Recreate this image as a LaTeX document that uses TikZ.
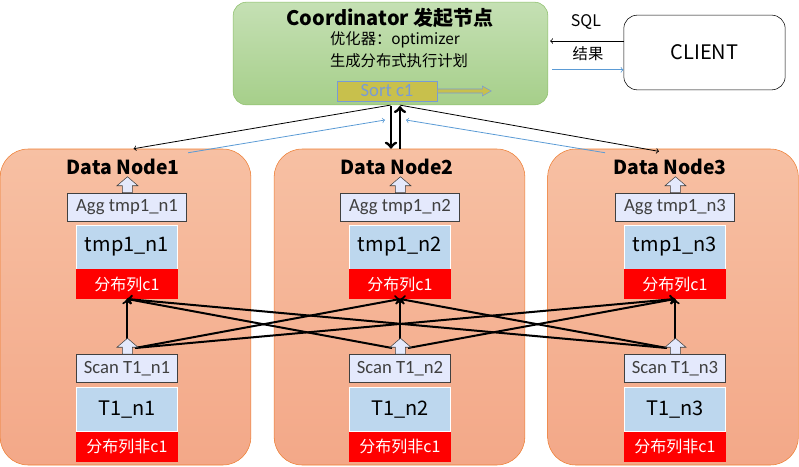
\documentclass[tikz,border=0pt]{standalone}
\usepackage{fontspec}
\setmainfont{Noto Sans CJK SC}
\newfontfamily\calfont{Carlito}
\usetikzlibrary{positioning}

\definecolor{coordtop}{RGB}{197,224,180}
\definecolor{coordbot}{RGB}{166,207,138}
\definecolor{coordline}{RGB}{140,190,105}
\definecolor{dntop}{RGB}{247,192,163}
\definecolor{dnbot}{RGB}{243,168,136}
\definecolor{dnline}{RGB}{237,125,49}
\definecolor{aggfill}{RGB}{228,233,252}
\definecolor{tmpfill}{RGB}{189,215,238}
\definecolor{sortfill}{RGB}{200,192,76}
\definecolor{sortblue}{RGB}{120,155,215}
\definecolor{resblue}{RGB}{91,155,213}
\definecolor{darkgray}{RGB}{64,64,64}

\tikzset{
  coordbox/.style={draw=coordline, rounded corners=10pt, top color=coordtop, bottom color=coordbot,
    minimum width=236pt, minimum height=77pt},
  clientbox/.style={draw, rounded corners=10pt, fill=white, minimum width=121pt, minimum height=56pt,
    font=\fontsize{15}{17}\selectfont},
  dnbox/.style={draw=dnline, rounded corners=21pt, top color=dntop, bottom color=dnbot,
    minimum width=188pt, minimum height=237pt},
  dntitle/.style={font=\bfseries\fontsize{14.5}{16}\selectfont},
  aggbox/.style={draw=darkgray, fill=aggfill, text=darkgray, minimum width=89pt, minimum height=21pt,
    inner sep=0pt, font=\calfont\fontsize{14}{16}\selectfont},
  scanbox/.style={aggbox, minimum width=76pt},
  tmpbox/.style={draw=white, fill=tmpfill, minimum width=76pt, minimum height=33pt, inner sep=0pt,
    outer sep=0pt, font=\fontsize{15}{17}\selectfont},
  distbox/.style={fill=red, text=white, minimum width=76pt, minimum height=22.5pt, inner sep=0pt,
    outer sep=0pt, font=\fontsize{12}{14}\selectfont},
  sortbox/.style={draw=sortblue, fill=sortfill, text=sortblue, minimum width=75pt, minimum height=15pt,
    inner sep=0pt, font=\calfont\fontsize{14}{16}\selectfont},
  blockarr/.style={draw=darkgray, fill=aggfill, line join=miter},
  flow/.style={->, line width=1.5pt},
  fatarr/.style={line width=2.2pt},
  thinarr/.style={->, line width=0.6pt},
  bluearr/.style={->, draw=resblue, line width=0.6pt}
}

% hollow upward arrow sitting on a box
\newcommand{\blockup}[1]{\draw[blockarr] ([xshift=-3.4pt]#1) -- ++(0,-7) -- ++(-5.5,0) -- ++(10.5,-9)
  -- ++(10.5,9) -- ++(-5.5,0) -- ++(0,7) -- cycle;}

\begin{document}
\begin{tikzpicture}[x=0.75pt,y=-0.75pt]
\useasboundingbox (0,0) rectangle (799,467);

% coordinator
\node[coordbox] (coord) at (390.5,53.5) {};
\node[font=\bfseries\fontsize{15}{17}\selectfont] (ctitle) at (390,18) {Coordinator 发起节点};
\node[font=\fontsize{11.5}{13}\selectfont] (copt) at (395,40) {优化器：optimizer};
\node[font=\fontsize{11.5}{13}\selectfont] (cplan) at (399,61) {生成分布式执行计划};
\node[sortbox] (sort) at (387,91) {Sort c1};
\draw[draw=sortblue, fill=sortfill] ([yshift=1.5pt]sort.east) -- ++(45,0) -- ++(0,-3) -- ++(9,5)
  -- ++(-9,5) -- ++(0,-3) -- ++(-45,0) -- cycle;

% client
\node[clientbox] (client) at (704.5,52.5) {CLIENT};
\coordinate (sqlout) at ([yshift=8.6pt]client.west);
\coordinate (resin) at ([yshift=-13pt]client.west);
\draw[thinarr] (sqlout) -- ([xshift=1.5pt]coord.east |- sqlout);
\draw[bluearr] ([xshift=3pt]coord.east |- resin) -- (resin);
\node[font=\fontsize{12}{14}\selectfont] (sql) at (586,22) {SQL};
\node[font=\fontsize{11.5}{13}\selectfont] (res) at (588,54) {结果};

% data nodes
\foreach \i/\bx/\cx/\tx in {1/125.5/127/123, 2/399.5/400/397, 3/673/675/670} {
  \node[dnbox] (dn\i) at (\bx,307) {};
  \node[dntitle] (title\i) at (\tx,167) {Data Node\i};
  \node[aggbox] (agg\i) at (\cx,207) {Agg tmp1\_n\i};
  \node[tmpbox] (tmp\i) at (\cx,247) {tmp1\_n\i};
  \node[distbox, below=0pt of tmp\i] (dist\i) {分布列c1};
  \node[scanbox] (scan\i) at (\cx,368.5) {Scan T1\_n\i};
  \node[tmpbox] (t\i) at (\cx,409.5) {T1\_n\i};
  \node[distbox, below=0pt of t\i] (ndist\i) {分布列非c1};
  \coordinate (tip\i) at (\cx,340);
  \coordinate (srcL\i) at (\cx-8,348);
  \coordinate (srcR\i) at (\cx+8,348);
}

% redistribution
\foreach \i in {1,2,3}
  \draw[flow] (tip\i) -- (dist\i.south);
\foreach \a/\b in {1/2,1/3,2/3}
  \draw[flow] (srcR\a) -- (dist\b.south);
\foreach \a/\b in {2/1,3/1,3/2}
  \draw[flow] (srcL\a) -- (dist\b.south);
\foreach \i in {1,2,3} {
  \blockup{agg\i.north}
  \blockup{scan\i.north}
}

% coordinator <-> data nodes
\coordinate (down1) at (391,106);
\coordinate (up1) at (400,106);
\coordinate (in1) at (385,120);
\coordinate (in3) at (406,120);
\draw[fatarr,->] (down1) -- (down1 |- dn2.north);
\draw[fatarr,<-] (up1) -- (up1 |- dn2.north);
\draw[thinarr] (coord.south) -- ([xshift=6pt]dn1.north);
\draw[thinarr] ([xshift=7pt]coord.south) -- ([xshift=-10.5pt,yshift=-2pt]dn3.north);
\draw[bluearr] ([xshift=47pt,yshift=-3pt]dn1.north) -- (in1);
\draw[bluearr] ([xshift=-51pt,yshift=-3pt]dn3.north) -- (in3);
\end{tikzpicture}
\end{document}
